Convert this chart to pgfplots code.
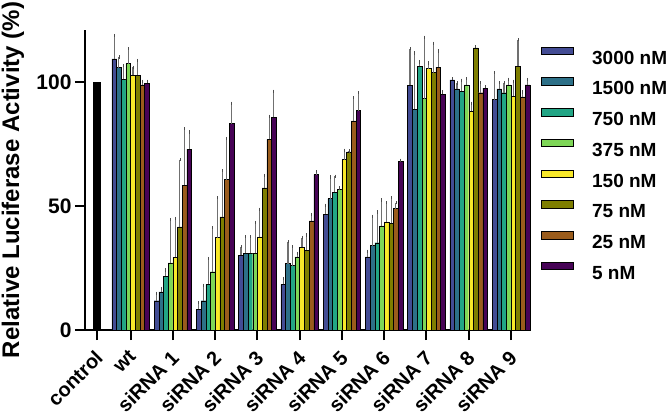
\documentclass[border=0pt]{standalone}
\usepackage{pgfplots}
\usepackage{pgfplotstable}
\pgfplotsset{compat=1.18}
\usepackage{fontspec}
\setmainfont{Liberation Sans}
\definecolor{cA}{HTML}{434C94}
\definecolor{cB}{HTML}{2D7088}
\definecolor{cC}{HTML}{22A585}
\definecolor{cD}{HTML}{7ED657}
\definecolor{cE}{HTML}{F8E82A}
\definecolor{cF}{HTML}{7E7E00}
\definecolor{cG}{HTML}{9A5C1C}
\definecolor{cH}{HTML}{470356}
\definecolor{errc}{HTML}{707070}

\pgfplotstableread{
x y e
1 109.4 9.4
2 11.8 3.0
3 8.3 2.7
4 30.1 3.5
5 18.4 2.4
6 46.6 3.7
7 29.5 2.3
8 98.7 14.7
9 100.9 0.4
10 92.9 10.9
}\tA
\pgfplotstableread{
x y e
1 105.8 4.3
2 15.4 1.4
3 11.8 6.3
4 30.9 6.7
5 26.8 8.8
6 53.0 8.7
7 34.0 11.9
8 89.0 22.7
9 97.3 2.3
10 97.3 2.4
}\tB
\pgfplotstableread{
x y e
1 101.1 5.6
2 21.7 2.5
3 18.4 10.5
4 30.9 6.7
5 26.0 7.6
6 55.5 6.5
7 35.2 12.4
8 106.3 1.8
9 96.3 4.4
10 95.7 4.0
}\tC
\pgfplotstableread{
x y e
1 107.4 6.0
2 27.1 17.5
3 23.5 17.8
4 30.9 12.5
5 29.5 1.4
6 56.8 0.5
7 42.0 10.4
8 93.3 24.8
9 98.9 2.4
10 98.9 2.2
}\tD
\pgfplotstableread{
x y e
1 102.7 3.3
2 29.3 15.7
3 37.3 16.1
4 37.6 11.1
5 33.3 4.0
6 68.7 3.8
7 43.6 7.7
8 105.4 2.3
9 88.2 3.3
10 94.3 6.0
}\tE
\pgfplotstableread{
x y e
1 102.7 6.0
2 41.6 27.1
3 45.6 18.6
4 57.3 5.0
5 32.2 6.1
6 71.8 0.4
7 43.0 10.4
8 103.8 11.9
9 113.8 0.4
10 106.4 10.7
}\tF
\pgfplotstableread{
x y e
1 98.9 1.4
2 58.4 22.8
3 60.7 16.5
4 76.9 9.3
5 44.0 2.6
6 84.3 9.4
7 49.0 2.3
8 106.0 6.5
9 95.7 4.0
10 94.0 2.0
}\tG
\pgfplotstableread{
x y e
1 99.6 0.7
2 73.0 6.9
3 83.2 8.3
4 85.8 10.5
5 62.7 1.1
6 88.5 7.2
7 68.1 0.4
8 95.0 1.0
9 97.6 0.5
10 98.9 2.1
}\tH

\pgfplotsset{
  mybar/.style={ybar, bar width=0.111, bar shift=0, draw=black, line width=0.45pt, fill=#1,
    legend image code/.code={\draw[fill=#1, draw=black, line width=0.45pt] (0pt,3pt) rectangle (32pt,10.5pt);},
    error bars/.cd, y dir=plus, y explicit,
    error bar style={color=errc, line width=1.1pt, solid},
    error mark options={color=black!70, line width=0.8pt, mark size=1.6pt, solid}},
}

\begin{document}
\begin{tikzpicture}[x=1pt,y=1pt]
\begin{axis}[
  width=445pt, height=300pt, scale only axis,
  xmin=-0.08, xmax=10.45, ymin=0, ymax=121,
  axis x line=bottom, axis y line=left,
  axis line style={-, line width=2pt},
  ytick={0,50,100},
  xtick={0.2,1,2,3,4,5,6,7,8,9,10},
  xticklabels={control,wt,siRNA 1,siRNA 2,siRNA 3,siRNA 4,siRNA 5,siRNA 6,siRNA 7,siRNA 8,siRNA 9},
  tick align=outside, major tick length=10pt,
  tick style={line width=2pt, black},
  /pgf/number format/assume math mode=true,
  yticklabel style={font=\fontsize{21}{24}\selectfont\bfseries},
  xticklabel style={xshift=-3pt, yshift=-4pt, rotate=45, anchor=north east, font=\fontsize{20}{24}\selectfont\bfseries},
  ylabel={Relative Luciferase Activity (\%)},
  ylabel style={font=\fontsize{24}{28}\selectfont\bfseries, at={(axis description cs:-0.162,0.5)}, anchor=center},
  legend cell align=left,
  legend style={at={(rel axis cs:1.0247,0.945)}, anchor=north west, draw=none, fill=none, inner sep=0pt,
    font=\fontsize{19}{22}\selectfont\bfseries,
    nodes={inner sep=0pt, text height=13.6pt, text depth=0pt},
    row sep=13.2pt, column sep=18.5pt},
  clip=false,
]
\addplot[ybar, bar width=0.158, bar shift=0, fill=black, draw=black, forget plot] coordinates {(0.2,100)};
\addplot[mybar=cA] table[x expr=\thisrow{x}-0.3885, y=y, y error=e]{\tA};
\addlegendentry{3000 nM}
\addplot[mybar=cB] table[x expr=\thisrow{x}-0.2775, y=y, y error=e]{\tB};
\addlegendentry{1500 nM}
\addplot[mybar=cC] table[x expr=\thisrow{x}-0.1665, y=y, y error=e]{\tC};
\addlegendentry{750 nM}
\addplot[mybar=cD] table[x expr=\thisrow{x}-0.0555, y=y, y error=e]{\tD};
\addlegendentry{375 nM}
\addplot[mybar=cE] table[x expr=\thisrow{x}+0.0555, y=y, y error=e]{\tE};
\addlegendentry{150 nM}
\addplot[mybar=cF] table[x expr=\thisrow{x}+0.1665, y=y, y error=e]{\tF};
\addlegendentry{75 nM}
\addplot[mybar=cG] table[x expr=\thisrow{x}+0.2775, y=y, y error=e]{\tG};
\addlegendentry{25 nM}
\addplot[mybar=cH] table[x expr=\thisrow{x}+0.3885, y=y, y error=e]{\tH};
\addlegendentry{5 nM}
\end{axis}
\pgfresetboundingbox
\path[use as bounding box] (-85pt,-86pt) rectangle (581pt,330pt);
\end{tikzpicture}
\end{document}
